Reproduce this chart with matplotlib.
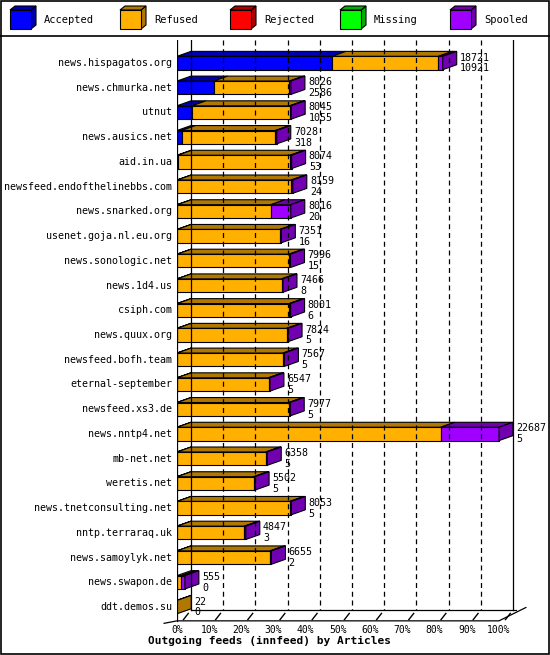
import numpy as np
import matplotlib.pyplot as plt
from matplotlib.patches import Polygon, Rectangle

hosts = ["news.hispagatos.org", "news.chmurka.net", "utnut", "news.ausics.net",
         "aid.in.ua", "newsfeed.endofthelinebbs.com", "news.snarked.org",
         "usenet.goja.nl.eu.org", "news.sonologic.net", "news.1d4.us", "csiph.com",
         "news.quux.org", "newsfeed.bofh.team", "eternal-september", "newsfeed.xs3.de",
         "news.nntp4.net", "mb-net.net", "weretis.net", "news.tnetconsulting.net",
         "nntp.terraraq.uk", "news.samoylyk.net", "news.swapon.de", "ddt.demos.su"]
offered = [18721, 8026, 8045, 7028, 8074, 8159, 8016, 7351, 7996, 7466, 8001, 7824,
           7567, 6547, 7977, 22687, 6358, 5502, 8053, 4847, 6655, 555, 22]
accepted = [10921, 2586, 1055, 318, 53, 24, 20, 16, 15, 8, 6, 5, 5, 5, 5, 5, 5, 5, 5, 3, 2, 0, 0]
spooled = [300, 100, 100, 100, 100, 100, 1400, 100, 100, 100, 100, 100, 100, 100, 100,
           4100, 100, 100, 100, 100, 100, 250, 0]
rejected = [0] * len(hosts)
missing = [0] * len(hosts)
refused = [o - a - s for o, a, s in zip(offered, accepted, spooled)]

series = ["Accepted", "Refused", "Rejected", "Missing", "Spooled"]
front_col = ["#0000ff", "#ffb000", "#ff0000", "#00ff00", "#a000ff"]
dark_col = ["#0000b0", "#b07800", "#b00000", "#00b000", "#7000b0"]
values = [accepted, refused, rejected, missing, spooled]

W, H = 550, 655
fig = plt.figure(figsize=(W / 100, H / 100), dpi=100)
mono = "DejaVu Sans Mono"

# frame and legend (figure pixel space)
bg = fig.add_axes([0, 0, 1, 1])
bg.set_xlim(0, W)
bg.set_ylim(H, 0)
bg.axis("off")
bg.add_patch(Rectangle((0.5, 0.5), W - 1.5, H - 1.5, fill=False, ec="black", lw=1.2))
bg.plot([0, W], [36, 36], color="black", lw=1.2)
for i, name in enumerate(series):
    x0 = 10 + 110 * i
    bg.add_patch(Polygon([(x0 + 21, 10), (x0 + 26, 6), (x0 + 26, 25), (x0 + 21, 29)],
                         fc=dark_col[i], ec="black", lw=0.8))
    bg.add_patch(Polygon([(x0, 10), (x0 + 5, 6), (x0 + 26, 6), (x0 + 21, 10)],
                         fc=dark_col[i], ec="black", lw=0.8))
    bg.add_patch(Rectangle((x0, 10), 21, 19, fc=front_col[i], ec="black", lw=0.8))
    bg.text(x0 + 34, 20, name, fontsize=7.5, family=mono, va="center")
bg.text(148, 641, "Outgoing feeds (innfeed) by Articles", fontsize=8,
        family=mono, weight="bold", va="center")

# chart axes: x in percent of max offered, y in row index
ax = fig.add_axes([177 / W, 1 - 630 / H, 363 / W, 590 / H])
ax.set_xlim(0, 363 / 3.22)
ax.set_ylim(22.93, -0.93)
ax.axis("off")
n = len(hosts)
dx, dy = 14 / 3.22, 0.2
h = 0.27
floor_back, floor_front = 22.12, 22.56
top = -0.93
vmax = max(offered)

for k in range(1, 10):
    ax.plot([10 * k + dx] * 2, [top, floor_back], color="black", lw=0.9, ls=(0, (4, 3)))
ax.plot([dx, dx], [top, floor_back], color="black", lw=0.9)
ax.plot([100 + dx] * 2, [top, floor_back], color="black", lw=0.9)
ax.plot([0, 0], [top, floor_front], color="black", lw=0.9)
ax.plot([dx, 100 + dx + 1], [floor_back, floor_back], color="black", lw=0.9)
ax.plot([-4, 0, 100, 104 + dx], [floor_front + 0.1, floor_front, floor_front, floor_back - 0.1],
        color="black", lw=0.9, clip_on=False)
for k in range(11):
    ax.plot([10 * k + 2, 10 * k + 3.5], [floor_front - 0.05, floor_front - 0.3], color="black", lw=1)
    ax.text(10 * k, floor_front + 0.35, f"{10 * k}%", fontsize=7, family=mono,
            ha="center", va="center", clip_on=False)

for r in range(n):
    segs = [v[r] / vmax * 100 for v in values]
    left = 0
    last = None
    for i, w in enumerate(segs):
        if w <= 0:
            continue
        ax.add_patch(Polygon([(left, r - h), (left + dx, r - h - dy), (left + w + dx, r - h - dy),
                              (left + w, r - h)], fc=dark_col[i], ec="black", lw=0.8))
        ax.add_patch(Rectangle((left, r - h), w, 2 * h, fc=front_col[i], ec="black", lw=0.8))
        left += w
        last = i
    if last is not None:
        ax.add_patch(Polygon([(left, r - h), (left + dx, r - h - dy), (left + dx, r + h - dy),
                              (left, r + h)], fc=dark_col[last], ec="black", lw=0.8))
    ax.text(-1.5, r, hosts[r], fontsize=7.2, family=mono, ha="right", va="center")
    ax.text(left + dx + 1, r - 0.22, str(offered[r]), fontsize=7.2, family=mono, va="center")
    ax.text(left + dx + 1, r + 0.22, str(accepted[r]), fontsize=7.2, family=mono, va="center")

fig.savefig("out.png", dpi=100)
